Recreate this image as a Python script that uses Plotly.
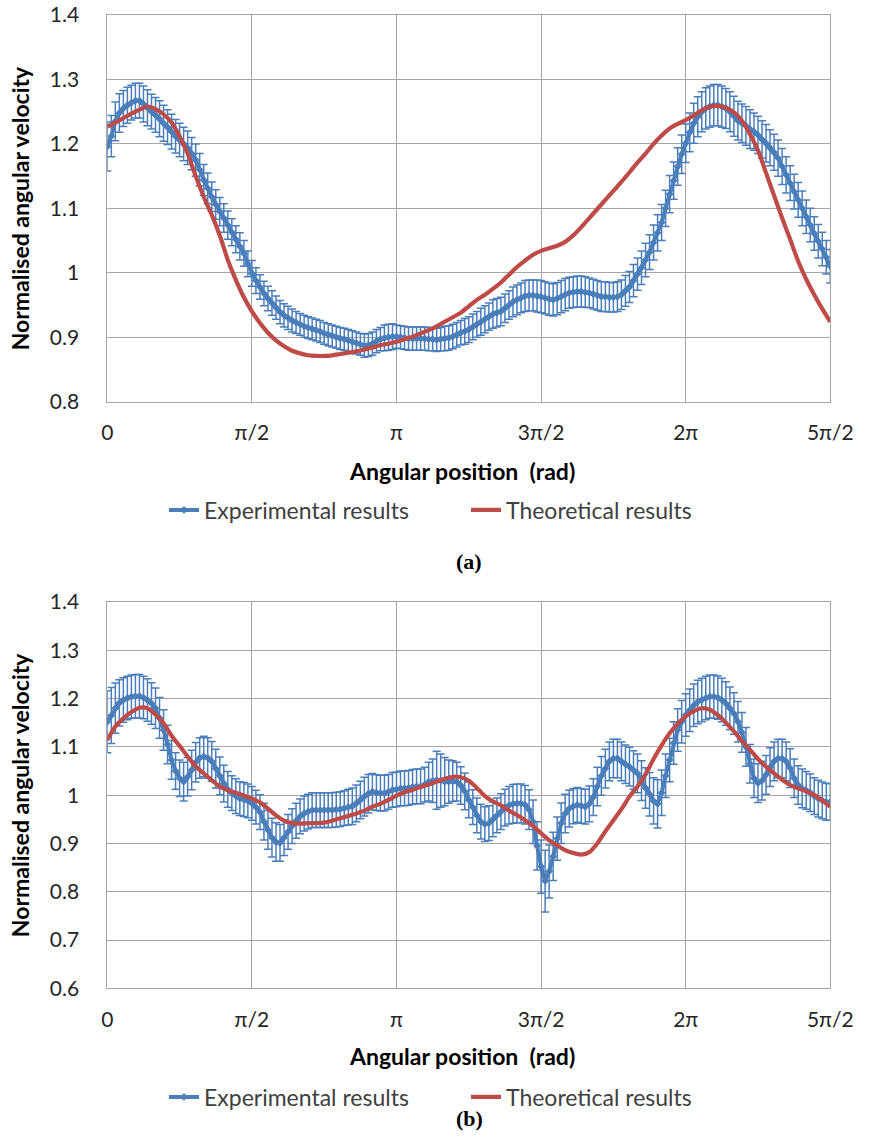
import numpy as np
import plotly.graph_objects as go

# ---------------- data ----------------
EXP_STEP_DEG = 2.5

exp_a = [
    1.196, 1.212, 1.235, 1.248, 1.255, 1.260, 1.264, 1.267, 1.267, 1.262,
    1.256, 1.250, 1.245, 1.239, 1.232, 1.226, 1.219, 1.212, 1.206, 1.200,
    1.194, 1.185, 1.175, 1.160, 1.144, 1.131, 1.118, 1.106, 1.095, 1.085,
    1.074, 1.063, 1.052, 1.041, 1.030, 1.014, 0.999, 0.988, 0.978, 0.968,
    0.960, 0.953, 0.946, 0.939, 0.934, 0.930, 0.926, 0.923, 0.920, 0.917,
    0.915, 0.913, 0.911, 0.909, 0.906, 0.904, 0.902, 0.900, 0.898, 0.897,
    0.895, 0.893, 0.891, 0.889, 0.887, 0.888, 0.890, 0.894, 0.897, 0.899,
    0.900, 0.901, 0.901, 0.900, 0.899, 0.898, 0.898, 0.898, 0.898, 0.898,
    0.897, 0.897, 0.896, 0.897, 0.898, 0.899, 0.901, 0.904, 0.907, 0.909,
    0.912, 0.916, 0.920, 0.924, 0.928, 0.932, 0.936, 0.938, 0.940, 0.945,
    0.950, 0.955, 0.958, 0.961, 0.964, 0.965, 0.965, 0.964, 0.963, 0.961,
    0.959, 0.958, 0.960, 0.963, 0.966, 0.969, 0.970, 0.971, 0.971, 0.970,
    0.969, 0.967, 0.965, 0.963, 0.963, 0.962, 0.962, 0.963, 0.966, 0.972,
    0.978, 0.988, 0.998, 1.008, 1.020, 1.032, 1.047, 1.062, 1.078, 1.100,
    1.122, 1.143, 1.165, 1.184, 1.201, 1.218, 1.232, 1.242, 1.250, 1.255,
    1.258, 1.260, 1.260, 1.258, 1.255, 1.250, 1.243, 1.236, 1.232, 1.228,
    1.223, 1.219, 1.214, 1.207, 1.201, 1.194, 1.187, 1.178, 1.165, 1.152,
    1.139, 1.126, 1.113, 1.100, 1.087, 1.074, 1.061, 1.049, 1.037, 1.024,
    1.010,
]

err_a = [
    0.038, 0.032, 0.030, 0.030, 0.028, 0.028, 0.027, 0.027, 0.027, 0.028,
    0.028, 0.027, 0.027, 0.028, 0.028, 0.027, 0.027, 0.026, 0.026, 0.026,
    0.026, 0.025, 0.025, 0.025, 0.024, 0.024, 0.023, 0.023, 0.022, 0.022,
    0.022, 0.021, 0.021, 0.021, 0.020, 0.020, 0.020, 0.020, 0.019, 0.019,
    0.019, 0.019, 0.018, 0.018, 0.018, 0.018, 0.018, 0.017, 0.017, 0.017,
    0.017, 0.017, 0.017, 0.017, 0.017, 0.017, 0.017, 0.017, 0.017, 0.017,
    0.017, 0.017, 0.017, 0.017, 0.018, 0.018, 0.018, 0.018, 0.018, 0.020,
    0.020, 0.020, 0.018, 0.018, 0.018, 0.018, 0.018, 0.018, 0.018, 0.018,
    0.018, 0.018, 0.018, 0.018, 0.019, 0.019, 0.019, 0.019, 0.019, 0.020,
    0.020, 0.020, 0.020, 0.021, 0.021, 0.021, 0.022, 0.022, 0.022, 0.022,
    0.022, 0.023, 0.023, 0.023, 0.024, 0.024, 0.024, 0.025, 0.025, 0.025,
    0.025, 0.025, 0.025, 0.025, 0.025, 0.024, 0.024, 0.024, 0.024, 0.024,
    0.023, 0.023, 0.023, 0.023, 0.023, 0.023, 0.023, 0.023, 0.023, 0.024,
    0.024, 0.025, 0.025, 0.026, 0.026, 0.027, 0.027, 0.028, 0.028, 0.028,
    0.029, 0.029, 0.029, 0.030, 0.030, 0.030, 0.031, 0.031, 0.031, 0.032,
    0.032, 0.032, 0.032, 0.032, 0.031, 0.031, 0.031, 0.030, 0.030, 0.030,
    0.030, 0.029, 0.029, 0.029, 0.029, 0.028, 0.028, 0.028, 0.028, 0.028,
    0.027, 0.027, 0.027, 0.027, 0.026, 0.026, 0.026, 0.026, 0.026, 0.026,
    0.026,
]

theo_a_deg = [0, 5, 10, 15, 20, 25, 30, 35, 40, 45, 50, 55, 60, 65, 70, 75, 80, 85, 90,
              95, 100, 105, 110, 115, 120, 125, 130, 135, 140, 145, 150, 155, 160, 165,
              170, 175, 180, 185, 190, 195, 200, 205, 210, 215, 220, 225, 230, 235, 240,
              245, 250, 255, 260, 265, 270, 275, 280, 285, 290, 295, 300, 305, 310, 315,
              320, 325, 330, 335, 340, 345, 350, 355, 360, 365, 370, 375, 380, 385, 390,
              395, 400, 405, 410, 415, 420, 425, 430, 435, 440, 445, 450]
theo_a = [1.227, 1.233, 1.240, 1.247, 1.253, 1.258, 1.254, 1.246, 1.233, 1.212,
          1.185, 1.150, 1.118, 1.090, 1.058, 1.020, 0.989, 0.962, 0.940, 0.922,
          0.907, 0.895, 0.886, 0.879, 0.875, 0.872, 0.871, 0.871, 0.872, 0.874,
          0.876, 0.878, 0.881, 0.884, 0.888, 0.890, 0.893, 0.897, 0.901, 0.906,
          0.911, 0.917, 0.924, 0.931, 0.938, 0.948, 0.958, 0.966, 0.975, 0.985,
          0.997, 1.009, 1.019, 1.028, 1.034, 1.038, 1.042, 1.048, 1.058, 1.071,
          1.085, 1.099, 1.113, 1.127, 1.141, 1.156, 1.171, 1.185, 1.200, 1.213,
          1.224, 1.231, 1.237, 1.244, 1.252, 1.258, 1.259, 1.256, 1.249, 1.236,
          1.215, 1.190, 1.155, 1.120, 1.085, 1.052, 1.018, 0.990, 0.966, 0.944,
          0.924]

exp_b = [
    1.152, 1.165, 1.180, 1.191, 1.197, 1.201, 1.204, 1.205, 1.205, 1.202,
    1.197, 1.190, 1.180, 1.160, 1.135, 1.105, 1.073, 1.050, 1.035, 1.028,
    1.038, 1.052, 1.068, 1.077, 1.080, 1.077, 1.070, 1.055, 1.040, 1.024,
    1.012, 1.004, 0.998, 0.993, 0.991, 0.988, 0.983, 0.975, 0.965, 0.945,
    0.928, 0.912, 0.903, 0.901, 0.912, 0.924, 0.936, 0.947, 0.956, 0.962,
    0.966, 0.969, 0.969, 0.969, 0.969, 0.969, 0.969, 0.970, 0.971, 0.973,
    0.975, 0.977, 0.983, 0.990, 0.997, 1.003, 1.007, 1.005, 1.004, 1.004,
    1.007, 1.011, 1.012, 1.014, 1.014, 1.015, 1.017, 1.018, 1.018, 1.022,
    1.028, 1.030, 1.031, 1.030, 1.028, 1.028, 1.029, 1.028, 1.020, 1.008,
    0.990, 0.975, 0.958, 0.945, 0.940, 0.942, 0.950, 0.958, 0.966, 0.974,
    0.979, 0.982, 0.983, 0.983, 0.980, 0.970, 0.945, 0.895, 0.852, 0.822,
    0.842, 0.873, 0.910, 0.942, 0.962, 0.972, 0.977, 0.980, 0.978, 0.976,
    0.982, 0.996, 1.018, 1.040, 1.055, 1.070, 1.076, 1.076, 1.070, 1.064,
    1.059, 1.052, 1.045, 1.030, 1.015, 1.002, 0.988, 0.982, 1.005, 1.040,
    1.073, 1.108, 1.135, 1.152, 1.166, 1.176, 1.186, 1.193, 1.197, 1.201,
    1.204, 1.204, 1.202, 1.197, 1.190, 1.180, 1.169, 1.152, 1.130, 1.100,
    1.065, 1.035, 1.025, 1.030, 1.042, 1.058, 1.070, 1.076, 1.076, 1.070,
    1.056, 1.035, 1.021, 1.014, 1.010, 1.005, 0.998, 0.993, 0.989, 0.986,
    0.986,
]

err_b = [
    0.064, 0.058, 0.052, 0.048, 0.046, 0.045, 0.045, 0.045, 0.045, 0.044,
    0.044, 0.043, 0.042, 0.042, 0.042, 0.040, 0.040, 0.038, 0.038, 0.040,
    0.040, 0.041, 0.041, 0.042, 0.042, 0.042, 0.041, 0.040, 0.039, 0.038,
    0.037, 0.036, 0.036, 0.035, 0.035, 0.035, 0.035, 0.035, 0.036, 0.038,
    0.040, 0.040, 0.040, 0.038, 0.037, 0.036, 0.036, 0.036, 0.036, 0.036,
    0.036, 0.036, 0.036, 0.036, 0.036, 0.036, 0.036, 0.036, 0.036, 0.036,
    0.037, 0.038, 0.038, 0.039, 0.040, 0.040, 0.038, 0.037, 0.037, 0.037,
    0.036, 0.036, 0.036, 0.036, 0.036, 0.036, 0.036, 0.036, 0.036, 0.036,
    0.040, 0.045, 0.060, 0.055, 0.050, 0.045, 0.042, 0.040, 0.039, 0.038,
    0.037, 0.036, 0.036, 0.036, 0.036, 0.036, 0.036, 0.036, 0.037, 0.038,
    0.039, 0.040, 0.040, 0.040, 0.040, 0.041, 0.045, 0.050, 0.055, 0.064,
    0.055, 0.050, 0.045, 0.042, 0.040, 0.038, 0.036, 0.036, 0.036, 0.036,
    0.037, 0.038, 0.040, 0.040, 0.040, 0.040, 0.040, 0.040, 0.040, 0.040,
    0.040, 0.040, 0.040, 0.041, 0.042, 0.045, 0.048, 0.050, 0.047, 0.045,
    0.045, 0.044, 0.044, 0.044, 0.044, 0.044, 0.044, 0.045, 0.045, 0.045,
    0.045, 0.045, 0.045, 0.045, 0.045, 0.044, 0.043, 0.042, 0.041, 0.040,
    0.040, 0.040, 0.040, 0.040, 0.040, 0.040, 0.040, 0.040, 0.040, 0.040,
    0.040, 0.040, 0.040, 0.040, 0.039, 0.039, 0.038, 0.038, 0.038, 0.038,
    0.038,
]

theo_b_deg = theo_a_deg
theo_b = [1.114, 1.142, 1.159, 1.172, 1.181, 1.180, 1.167, 1.149, 1.123, 1.102,
          1.080, 1.060, 1.045, 1.031, 1.018, 1.010, 1.005, 0.999, 0.993, 0.985,
          0.972, 0.958, 0.947, 0.942, 0.941, 0.942, 0.942, 0.943, 0.947, 0.952,
          0.957, 0.962, 0.968, 0.976, 0.982, 0.990, 0.999, 1.006, 1.011, 1.017,
          1.022, 1.028, 1.034, 1.038, 1.037, 1.030, 1.015, 0.998, 0.987, 0.979,
          0.968, 0.959, 0.948, 0.936, 0.921, 0.907, 0.896, 0.886, 0.880, 0.877,
          0.882, 0.900, 0.925, 0.948, 0.971, 0.997, 1.018, 1.043, 1.075, 1.103,
          1.128, 1.148, 1.163, 1.174, 1.180, 1.177, 1.166, 1.150, 1.132, 1.112,
          1.094, 1.075, 1.059, 1.045, 1.032, 1.021, 1.014, 1.008, 1.000, 0.989,
          0.976]

tick_deg = [0, 90, 180, 270, 360, 450]
tick_text = ["0", "π/2", "π", "3π/2", "2π", "5π/2"]
ytick_a = [0.8, 0.9, 1.0, 1.1, 1.2, 1.3, 1.4]
ytick_a_text = ["0.8", "0.9", "1", "1.1", "1.2", "1.3", "1.4"]
ytick_b = [0.6, 0.7, 0.8, 0.9, 1.0, 1.1, 1.2, 1.3, 1.4]
ytick_b_text = ["0.6", "0.7", "0.8", "0.9", "1", "1.1", "1.2", "1.3", "1.4"]

x_title = "Angular position\u00a0 (rad)"
y_title = "Normalised angular velocity"
series_names = ["Experimental results", "Theoretical results"]

# ---------------- figure ----------------
W, H = 869, 1137
BLUE = "#4a7ebb"
RED = "#be4b48"
GRID = "#a6a6a6"
TXT = "#262626"
FONT = "Lato"

def rad(d):
    return np.deg2rad(np.asarray(d, dtype=float))

xa = rad(np.arange(len(exp_a)) * EXP_STEP_DEG)
xb = rad(np.arange(len(exp_b)) * EXP_STEP_DEG)

fig = go.Figure()

def add_pair(x_exp, y_exp, e, x_th, y_th, xref, yref, legend):
    fig.add_trace(go.Scatter(
        x=x_exp, y=y_exp, name=series_names[0], mode="lines+markers",
        line=dict(color=BLUE, width=4),
        marker=dict(symbol="diamond", size=6, color=BLUE),
        error_y=dict(type="data", array=e, visible=True, color=BLUE,
                     thickness=1.5, width=4),
        xaxis=xref, yaxis=yref, legend=legend,
    ))
    fig.add_trace(go.Scatter(
        x=x_th, y=y_th, name=series_names[1], mode="lines",
        line=dict(color=RED, width=4.2, shape="spline", smoothing=0.8),
        xaxis=xref, yaxis=yref, legend=legend,
    ))

add_pair(xa, exp_a, err_a, rad(theo_a_deg), theo_a, "x", "y", "legend")
add_pair(xb, exp_b, err_b, rad(theo_b_deg), theo_b, "x2", "y2", "legend2")

xl, xr = 107.3, 830.3
dom_x = [xl / W, xr / W]
dom_y_a = [1 - 401.7 / H, 1 - 15 / H]
dom_y_b = [1 - 988.3 / H, 1 - 602 / H]

def xaxis(anchor):
    return dict(
        domain=dom_x, anchor=anchor, range=[0, rad(450)],
        tickmode="array", tickvals=list(rad(tick_deg)), ticktext=tick_text,
        showgrid=True, gridcolor=GRID, gridwidth=1,
        showline=True, linecolor=GRID, linewidth=1, mirror=True,
        zeroline=False, ticks="", ticklabelstandoff=12,
        tickfont=dict(family=FONT, size=21, color=TXT),
    )

def yaxis(dom, anchor, rng, tv, tt):
    return dict(
        domain=dom, anchor=anchor, range=rng,
        tickmode="array", tickvals=tv, ticktext=tt,
        showgrid=True, gridcolor=GRID, gridwidth=1,
        showline=True, linecolor=GRID, linewidth=1, mirror=True,
        zeroline=False, ticks="", ticklabelstandoff=23,
        tickfont=dict(family=FONT, size=21, color=TXT),
    )

legend_common = dict(
    orientation="h", xanchor="left", yanchor="middle",
    font=dict(family=FONT, size=23, color="#404040"),
    bgcolor="rgba(0,0,0,0)", borderwidth=0, itemwidth=30,
    entrywidth=257, entrywidthmode="pixels",
)

fig.update_layout(
    width=W, height=H,
    margin=dict(l=0, r=0, t=0, b=0, autoexpand=False),
    paper_bgcolor="white", plot_bgcolor="white",
    showlegend=True,
    xaxis=xaxis("y"),
    yaxis=yaxis(dom_y_a, "x", [0.8, 1.4], ytick_a, ytick_a_text),
    xaxis2=xaxis("y2"),
    yaxis2=yaxis(dom_y_b, "x2", [0.6, 1.4], ytick_b, ytick_b_text),
    legend=dict(x=164 / W, y=1 - 510 / H, **legend_common),
    legend2=dict(x=164 / W, y=1 - 1097 / H, **legend_common),
)

ann_font_b = dict(family=FONT, size=23, color="#000000")
for ycen_title, ycen_plot, label, ylab in [
    (471, (15 + 401.7) / 2, "(a)", 561),
    (1056, (602 + 988.3) / 2, "(b)", 1118),
]:
    fig.add_annotation(
        x=462 / W, y=1 - ycen_title / H, xref="paper", yref="paper",
        text="<b>" + x_title + "</b>", showarrow=False,
        xanchor="center", yanchor="middle", font=ann_font_b,
    )
    fig.add_annotation(
        x=20 / W, y=1 - ycen_plot / H, xref="paper", yref="paper",
        text="<b>" + y_title + "</b>", showarrow=False, textangle=-90,
        xanchor="center", yanchor="middle", font=ann_font_b,
    )
    fig.add_annotation(
        x=469 / W, y=1 - ylab / H, xref="paper", yref="paper",
        text="<b>" + label + "</b>", showarrow=False,
        xanchor="center", yanchor="middle",
        font=dict(family="Liberation Serif", size=22, color="#000000"),
    )

fig.write_html(
    "out.html",
    config={"displayModeBar": False},
    post_script="document.body.style.margin='0';document.body.style.overflow='hidden';",
)
